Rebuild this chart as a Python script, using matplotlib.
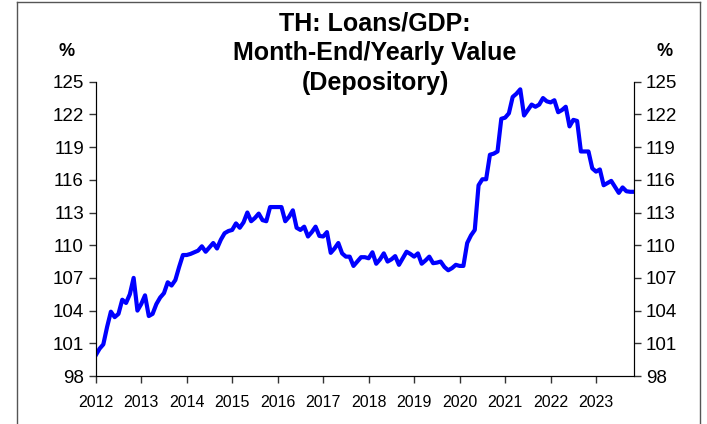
import matplotlib
matplotlib.use("Agg")
import matplotlib.pyplot as plt
from matplotlib.lines import Line2D
import numpy as np

plt.rcParams['font.family'] = ['Liberation Sans', 'DejaVu Sans']

# monthly loans/GDP ratio (%), Jan 2012 onwards
loans_gdp = [
    99.9, 100.5, 100.9, 102.5, 103.9, 103.4, 103.7, 105.0, 104.7, 105.5, 107.0, 104.0,
    104.6, 105.4, 103.5, 103.7, 104.6, 105.2, 105.6, 106.6, 106.3, 106.8, 108.0, 109.1,
    109.1, 109.2, 109.35, 109.5, 109.9, 109.4, 109.8, 110.2, 109.7, 110.5, 111.1, 111.3,
    111.4, 112.0, 111.6, 112.1, 113.0, 112.2, 112.5, 112.9, 112.3, 112.2, 113.5, 113.5,
    113.5, 113.5, 112.2, 112.6, 113.2, 111.6, 111.4, 111.7, 110.8, 111.2, 111.7, 110.85,
    110.8, 111.2, 109.3, 109.7, 110.2, 109.25, 108.95, 108.95, 108.1, 108.5, 108.9, 108.9,
    108.8, 109.35, 108.3, 108.7, 109.25, 108.5, 108.7, 109.0, 108.2, 108.8, 109.4, 109.2,
    108.95, 109.25, 108.3, 108.6, 108.95, 108.35, 108.4, 108.5, 108.0, 107.7, 107.9, 108.2,
    108.1, 108.1, 110.2, 110.9, 111.4, 115.5, 116.05, 116.05, 118.3, 118.4, 118.6, 121.6,
    121.7, 122.1, 123.6, 123.9, 124.3, 121.9, 122.4, 122.9, 122.7, 122.9, 123.5, 123.2,
    123.1, 123.3, 122.2, 122.4, 122.7, 120.9, 121.5, 121.4, 118.6, 118.6, 118.6, 117.05,
    116.75, 116.95, 115.5, 115.7, 115.9, 115.35, 114.8, 115.3, 114.95, 114.9, 114.9,
]
years = [str(y) for y in range(2012, 2024)]
yticks = [98, 101, 104, 107, 110, 113, 116, 119, 122, 125]
title = "TH: Loans/GDP:\nMonth-End/Yearly Value\n(Depository)"

months = np.arange(len(loans_gdp))

fig = plt.figure(figsize=(7.07, 4.24), dpi=100)
ax = fig.add_axes([0.1354, 0.1132, 0.7613, 0.6941])
ax.plot(months, loans_gdp, color='#0000FF', lw=3, solid_joinstyle='round')

ax.set_xlim(0, len(loans_gdp) - 1)
ax.set_ylim(98, 125)
ax.set_xticks(np.arange(len(years)) * 12)
ax.set_xticklabels(years, fontsize=11.5)
ax.set_yticks(yticks)
ax.set_yticklabels([str(v) for v in yticks], fontsize=13.5)
ax.tick_params(axis='both', direction='out', length=5, width=1, color='#333333')
ax.tick_params(axis='x', pad=9)
ax.spines['top'].set_visible(False)
for s in ['left', 'right', 'bottom']:
    ax.spines[s].set_color('#333333')

ax2 = ax.twinx()
ax2.set_ylim(98, 125)
ax2.set_yticks(yticks)
ax2.set_yticklabels([str(v) for v in yticks], fontsize=13.5)
ax2.tick_params(axis='y', direction='out', length=5, width=1, color='#333333')
ax2.spines['top'].set_visible(False)

fig.text(67 / 707, 1 - 51 / 424, "%", fontsize=13, fontweight='bold', ha='center', va='center')
fig.text(665 / 707, 1 - 51 / 424, "%", fontsize=13, fontweight='bold', ha='center', va='center')
fig.text(375 / 707, 1 - 53 / 424, title, fontsize=18, fontweight='bold',
         ha='center', va='center', linespacing=1.3)

# outer frame
fig.add_artist(Line2D([17 / 707, 17 / 707], [0, 1 - 2 / 424], color='#555555', lw=1))
fig.add_artist(Line2D([700 / 707, 700 / 707], [0, 1 - 2 / 424], color='#555555', lw=1))
fig.add_artist(Line2D([17 / 707, 700 / 707], [1 - 2 / 424, 1 - 2 / 424], color='#555555', lw=1))

fig.savefig("out.png", dpi=100)
